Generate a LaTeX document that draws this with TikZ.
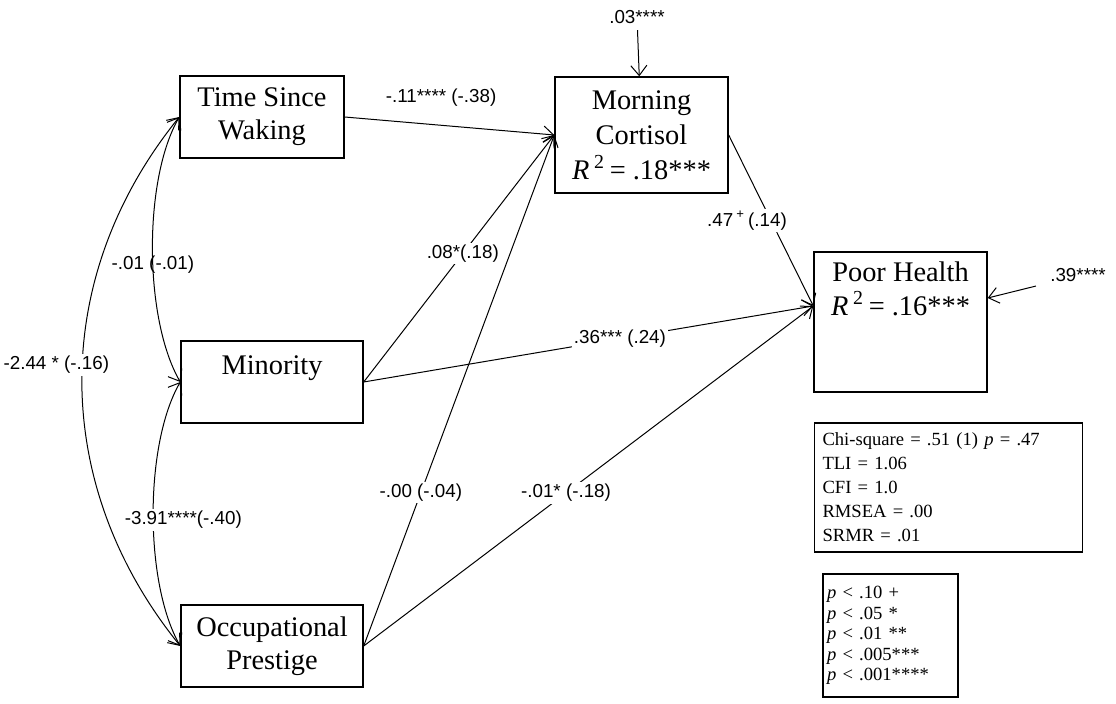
\documentclass[tikz,border=0pt]{standalone}
\usepackage{fontspec}
\setmainfont{Liberation Serif}
\newfontfamily\coeffont{Liberation Sans}
\usetikzlibrary{arrows.meta}

\tikzset{
	var/.style={draw, line width=0.7pt, inner sep=0pt, align=center, font=\fontsize{14.2}{16.5}\selectfont},
	coef/.style={font=\coeffont\fontsize{9.4}{10}\selectfont, fill=white, inner sep=1pt},
	effect/.style={-{Straight Barb[length=5pt,width=8pt]}, line width=0.5pt},
	cov/.style={{Straight Barb[length=5pt,width=8pt]}-{Straight Barb[length=5pt,width=8pt]}, line width=0.5pt},
	fitbox/.style={draw, line width=0.6pt, align=left, font=\fontsize{9.3}{12}\selectfont}
}

\begin{document}
\begin{tikzpicture}[x=0.5pt, y=0.5pt]
		\useasboundingbox (0,0) rectangle (1116,703);

		% predictors
		\node[var, minimum width=82pt, minimum height=41pt] (tsw) at (262,586) {Time Since\\Waking};
		\node[var, minimum width=91pt, minimum height=41pt] (min) at (272,321) {Minority\\~};
		\node[var, minimum width=91pt, minimum height=41pt] (occ) at (272,57) {Occupational\\Prestige};

		% outcomes
		\node[var, minimum width=86.5pt, minimum height=58pt, font=\fontsize{14.2}{17.5}\selectfont] (mc) at (641.5,568) {Morning\\Cortisol\\\textit{R}\,\textsuperscript{2}\,= .18***};
		\node[var, minimum width=86.5pt, minimum height=70pt, font=\fontsize{14.2}{16.8}\selectfont] (ph) at (900.5,381) {Poor Health\\\textit{R}\,\textsuperscript{2}\,= .16***\\~\\~};

		\coordinate (phin) at ([yshift=8pt]ph.west);
		\coordinate (pherr) at ([yshift=12pt]ph.east);

		% paths
		\draw[effect] (tsw.east) -- node[coef, fill=none, pos=0.46, yshift=14pt] {-.11**** (-.38)} (mc.west);
		\draw[effect] (min.east) -- node[coef, pos=0.52] {.08*(.18)} (mc.west);
		\draw[effect] (occ.east) -- node[coef, pos=0.3] {-.00 (-.04)} (mc.west);
		\draw[effect] (min.east) -- node[coef, pos=0.57] {.36*** (.24)} (phin);
		\draw[effect] (occ.east) -- node[coef, pos=0.45] {-.01* (-.18)} (phin);
		\draw[effect] (mc.east) -- node[coef, pos=0.5, xshift=-12pt] {.47\,\textsuperscript{+}\,(.14)} (phin);

		% residuals
		\node[coef, fill=none] (e1) at (637,686) {.03****};
		\node[coef, fill=none] (e2) at (1078,428) {.39****};
		\draw[effect, shorten <=2pt] (e1) -- (mc);
		\draw[effect] ([xshift=-6pt, yshift=-1pt]e2.south west) -- (pherr);

		% covariances
		\draw[cov] (tsw.west) to[out=231, in=129] node[coef, pos=0.47, xshift=-13pt] {-2.44 * (-.16)} (occ.west);
		\draw[cov] (tsw.west) to[out=240, in=120, looseness=0.7] node[coef, fill=none, pos=0.55] {-.01 (-.01)} (min.west);
		\draw[cov] (min.west) to[out=240, in=120, looseness=0.7] node[coef, pos=0.52, xshift=15pt] {-3.91****(-.40)} (occ.west);

		% fit and legend
		\node[fitbox, minimum height=64.5pt, text width=126pt, inner sep=4pt] (fit) at (948.5,215.5) {Chi-square = .51 (1) \textit{p} = .47\\TLI = 1.06\\CFI = 1.0\\RMSEA = .00\\SRMR = .01};
		\node[fitbox, minimum height=61.5pt, text width=63.5pt, inner sep=2pt, font=\fontsize{9.3}{10.3}\selectfont] (sig) at (890.5,67.5) {\textit{p} < .10 +\\\textit{p} < .05 *\\\textit{p} < .01 **\\\textit{p} < .005***\\\textit{p} < .001****};
	\end{tikzpicture}
\end{document}
